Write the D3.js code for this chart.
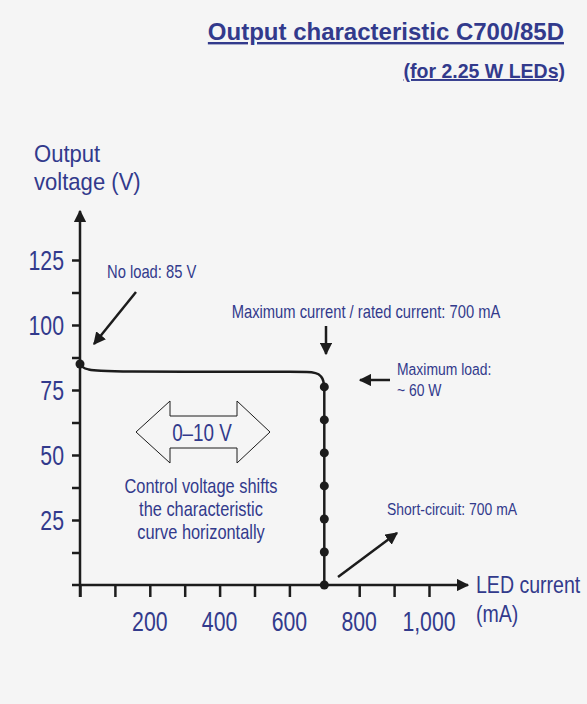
<!DOCTYPE html>
<html>
<head>
<meta charset="utf-8">
<script src="https://cdn.jsdelivr.net/npm/d3@7"></script>
<style>
  body { margin: 0; background: #f5f5f5; }
  svg { display: block; }
  text { font-family: "Liberation Sans", Arial, sans-serif; fill: #323a8c; }
  .bold { font-weight: bold; }
</style>
</head>
<body>
<svg id="chart"></svg>
<script>
// values
let curve_pts = [
  [0, 85], [8, 83.8], [25, 82.9], [60, 82.4], [150, 82.1], [300, 82],
  [450, 82], [600, 82], [650, 81.9], [675, 81.5], [690, 80.3], [697, 78.5], [700, 76.2],
];
let drop_pts = [[700, 76.2], [700, 0]];
let dot_pts = [[0, 85], [700, 76.2], [700, 63.5], [700, 50.8], [700, 38.1], [700, 25.4], [700, 12.7], [700, 0]];
let x_ticks = [0, 100, 200, 300, 400, 500, 600, 800, 900, 1000];
let x_labels = [200, 400, 600, 800, 1000];
let y_ticks = [12.5, 25, 37.5, 50, 62.5, 75, 87.5, 100, 112.5, 125];
let y_labels = [25, 50, 75, 100, 125];

let width = 587,
  height = 704;
let ink = "#1c1c1c";

let svg = d3.select("#chart").attr("width", width).attr("height", height);

svg.append("defs")
  .append("marker")
  .attr("id", "head")
  .attr("viewBox", "0 0 10 10")
  .attr("refX", 9)
  .attr("refY", 5)
  .attr("markerWidth", 5)
  .attr("markerHeight", 5)
  .attr("markerUnits", "strokeWidth")
  .attr("orient", "auto")
  .append("path")
  .attr("d", "M0,0 L10,5 L0,10 Z")
  .attr("fill", ink);

let x = d3.scaleLinear().domain([0, 1000]).range([80, 429]);
let y = d3.scaleLinear().domain([0, 125]).range([585, 260]);

// no condensed font installed, so squeeze the text horizontally
function label(tx, ty, txt, size, anchor, sx) {
  return svg.append("text")
    .attr("transform", "translate(" + tx + "," + ty + ") scale(" + (sx || 0.82) + ",1)")
    .attr("font-size", size)
    .attr("text-anchor", anchor || "start")
    .text(txt);
}

// title
svg.append("text")
  .attr("class", "bold")
  .attr("x", 564).attr("y", 40)
  .attr("text-anchor", "end")
  .attr("font-size", "24px")
  .attr("text-decoration", "underline")
  .text("Output characteristic C700/85D");
svg.append("text")
  .attr("class", "bold")
  .attr("x", 565).attr("y", 78)
  .attr("text-anchor", "end")
  .attr("font-size", "19.5px")
  .attr("text-decoration", "underline")
  .text("(for 2.25 W LEDs)");

// axes
let gx = svg.append("g")
  .attr("transform", "translate(0," + y(0) + ")")
  .call(d3.axisBottom(x).tickValues(x_ticks).tickSize(12).tickFormat(""));
gx.select(".domain").remove();
gx.selectAll("line").attr("stroke", ink).attr("stroke-width", 2.5);

let gy = svg.append("g")
  .attr("transform", "translate(" + x(0) + ",0)")
  .call(d3.axisLeft(y).tickValues(y_ticks).tickSize(8).tickFormat(""));
gy.select(".domain").remove();
gy.selectAll("line").attr("stroke", ink).attr("stroke-width", 2.5);

svg.append("line")
  .attr("x1", 72).attr("y1", y(0))
  .attr("x2", 468).attr("y2", y(0))
  .attr("stroke", ink).attr("stroke-width", 2.5)
  .attr("marker-end", "url(#head)");
svg.append("line")
  .attr("x1", x(0)).attr("y1", 597)
  .attr("x2", x(0)).attr("y2", 211)
  .attr("stroke", ink).attr("stroke-width", 2.5)
  .attr("marker-end", "url(#head)");

x_labels.forEach((d) => label(x(d), 631, d3.format(",")(d), "28px", "middle", 0.76));
y_labels.forEach((d) => label(64, y(d) + 10, d, "28px", "end", 0.76));

// axis titles
label(34, 162, "Output", "24px", "start", 0.92);
label(34, 190, "voltage (V)", "24px", "start", 0.92);
label(476, 593, "LED current", "23px", "start", 0.85);
label(476, 622, "(mA)", "23px", "start", 0.85);

// characteristic curve
let line = d3.line()
  .x((d) => x(d[0]))
  .y((d) => y(d[1]));
svg.append("path")
  .datum(curve_pts)
  .attr("d", line.curve(d3.curveMonotoneX))
  .attr("fill", "none").attr("stroke", ink).attr("stroke-width", 2.5);
svg.append("path")
  .datum(drop_pts)
  .attr("d", d3.line().x((d) => x(d[0])).y((d) => y(d[1])))
  .attr("fill", "none").attr("stroke", ink).attr("stroke-width", 2.5);
svg.append("g")
  .selectAll("circle")
  .data(dot_pts)
  .join("circle")
  .attr("cx", (d) => x(d[0]))
  .attr("cy", (d) => y(d[1]))
  .attr("r", 4.5)
  .attr("fill", ink);

// annotation arrows
function arrow(x1, y1, x2, y2) {
  svg.append("line")
    .attr("x1", x1).attr("y1", y1)
    .attr("x2", x2).attr("y2", y2)
    .attr("stroke", ink).attr("stroke-width", 2.5)
    .attr("marker-end", "url(#head)");
}
arrow(136, 292, 94, 344);
arrow(326, 326, 326, 354);
arrow(390, 380, 360, 380);
arrow(338, 577, 397, 533);

label(107, 278, "No load: 85 V", "18px");
label(366, 318, "Maximum current / rated current: 700 mA", "18px", "middle");
label(397, 375, "Maximum load:", "17px");
label(397, 396, "~ 60 W", "17px");
label(387, 515, "Short-circuit: 700 mA", "17px");

// hollow double arrow
svg.append("path")
  .attr("d", "M136,432 L170,401 L170,416 L237,416 L237,401 L270,432 L237,463 L237,448 L170,448 L170,463 Z")
  .attr("fill", "none").attr("stroke", ink).attr("stroke-width", 1);
label(202, 441, "0\u201310 V", "23px", "middle");
label(201, 493, "Control voltage shifts", "20px", "middle");
label(201, 516, "the characteristic", "20px", "middle");
label(201, 539, "curve horizontally", "20px", "middle");
</script>
</body>
</html>
